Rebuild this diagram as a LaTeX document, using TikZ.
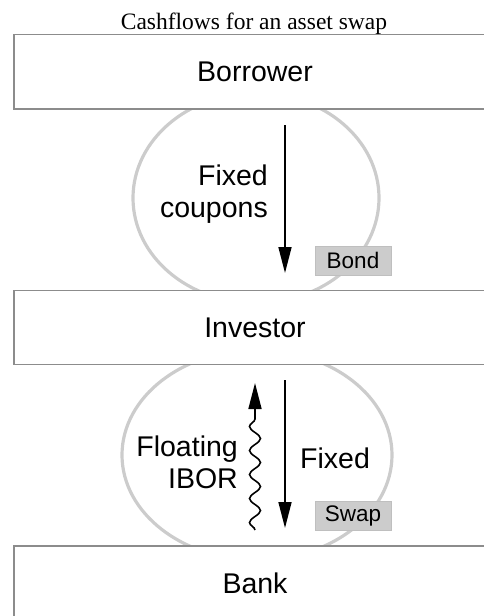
\documentclass[tikz,border=0pt]{standalone}
\usepackage{fontspec}
\setmainfont{Liberation Serif}
\setsansfont{Liberation Sans}
\usetikzlibrary{positioning,arrows.meta,decorations.pathmorphing}

\begin{document}
\begin{tikzpicture}[x=1pt, y=-1pt,
    party/.style={rectangle, draw=black!45, fill=white, line width=1.2pt, minimum width=482pt, minimum height=74.5pt, font=\sffamily\fontsize{28.5}{32}\selectfont},
    flowtext/.style={inner sep=0pt, align=right, font=\sffamily\fontsize{28.5}{32}\selectfont},
    tag/.style={rectangle, fill=black!20, draw=black!25, minimum width=76pt, minimum height=29pt, inner sep=0pt, font=\sffamily\fontsize{22.5}{24}\selectfont},
    ring/.style={draw=black!20, line width=3.2pt},
    flow/.style={-{Triangle[length=26pt,width=13pt]}, line width=1.6pt}]
    \useasboundingbox (0,0) rectangle (483,616);
    \node[font=\rmfamily\fontsize{23.5}{26}\selectfont, inner sep=0pt, anchor=base] (title) at (254,29) {Cashflows for an asset swap};

    % the two legs, behind the parties
    \draw[ring] (256,198) ellipse [x radius=123pt, y radius=105pt];
    \draw[ring] (257,455) ellipse [x radius=135pt, y radius=105pt];

    \node[party] (borrower) at (255,71.75) {Borrower};
    \node[party] (investor) at (255,327.5) {Investor};
    \node[party] (bank) at (255,583.25) {Bank};

    \coordinate (coupon start) at (285,125);
    \coordinate (coupon end) at (285,273);
    \coordinate (fixed start) at (285,380);
    \coordinate (fixed end) at (285,528);
    \coordinate (ibor start) at (255,530);
    \coordinate (ibor end) at (255,383);

    \draw [flow] (coupon start) -- (coupon end);
    \draw [flow] (fixed start) -- (fixed end);
    \draw [flow, decorate, decoration={snake, amplitude=5.5pt, segment length=24pt, post length=27pt}] (ibor start) -- (ibor end);

    \node[flowtext, anchor=east] (coupons) at (268,194) {Fixed\\coupons};
    \node[flowtext, anchor=east] (floating) at (238,462) {Floating\\IBOR};
    \node[flowtext, anchor=west] (fixed) at (300,458) {Fixed};
    \node[tag] (bond) at (353,260.5) {Bond};
    \node[tag] (swap) at (353,516) {Swap};
\end{tikzpicture}
\end{document}
